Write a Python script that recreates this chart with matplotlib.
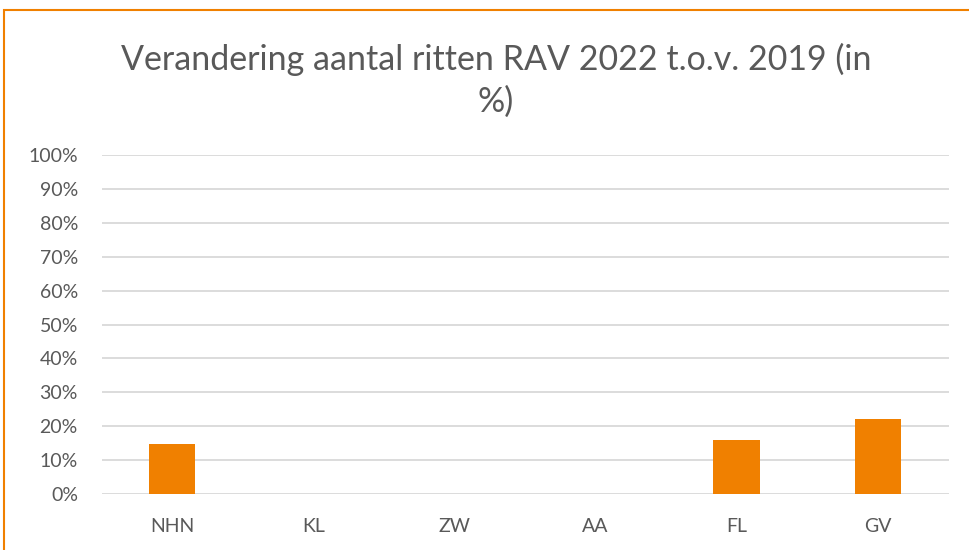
import matplotlib
matplotlib.use("Agg")
from matplotlib import pyplot as plt
from matplotlib.patches import Rectangle
from matplotlib.ticker import PercentFormatter

categories = ["NHN", "KL", "ZW", "AA", "FL", "GV"]
values = [14.7, 0, 0, 0, 16.0, 22.0]
yticks = [0, 10, 20, 30, 40, 50, 60, 70, 80, 90, 100]

plt.rcParams['font.family'] = ['Lato', 'DejaVu Sans']
text_grey = '#595959'
orange = '#F08000'

fig = plt.figure(figsize=(9.69, 5.5), dpi=100)
W, H = 969, 550
ax = fig.add_axes([101.5 / W, 1 - 494 / H, (948.5 - 101.5) / W, (494 - 155) / H])

ax.bar(range(len(categories)), values, width=0.33, color=orange, zorder=3)
ax.set_xlim(-0.5, len(categories) - 0.5)
ax.set_ylim(0, 100)
ax.set_yticks(yticks)
ax.yaxis.set_major_formatter(PercentFormatter(decimals=0))
ax.set_xticks(range(len(categories)))
ax.set_xticklabels(categories)
ax.grid(axis='y', color='#d9d9d9', linewidth=1.3, zorder=0)
for s in ax.spines.values():
    s.set_visible(False)
ax.tick_params(length=0, labelsize=14, colors=text_grey)
ax.tick_params(axis='y', pad=17)
ax.tick_params(axis='x', pad=17)

fig.text(496 / W, 1 - 59 / H, "Verandering aantal ritten RAV 2022 t.o.v. 2019 (in",
         ha='center', va='center', fontsize=24.5, color=text_grey)
fig.text(496 / W, 1 - 102 / H, "%)", ha='center', va='center', fontsize=24.5, color=text_grey)

# orange chart frame, cut off on the right and bottom
fig.patches.append(Rectangle((4 / W, -0.1), 1.1, 1 - 10 / H + 0.1, transform=fig.transFigure,
                             fill=False, edgecolor=orange, linewidth=1.5))

fig.savefig("out.png", dpi=100)
